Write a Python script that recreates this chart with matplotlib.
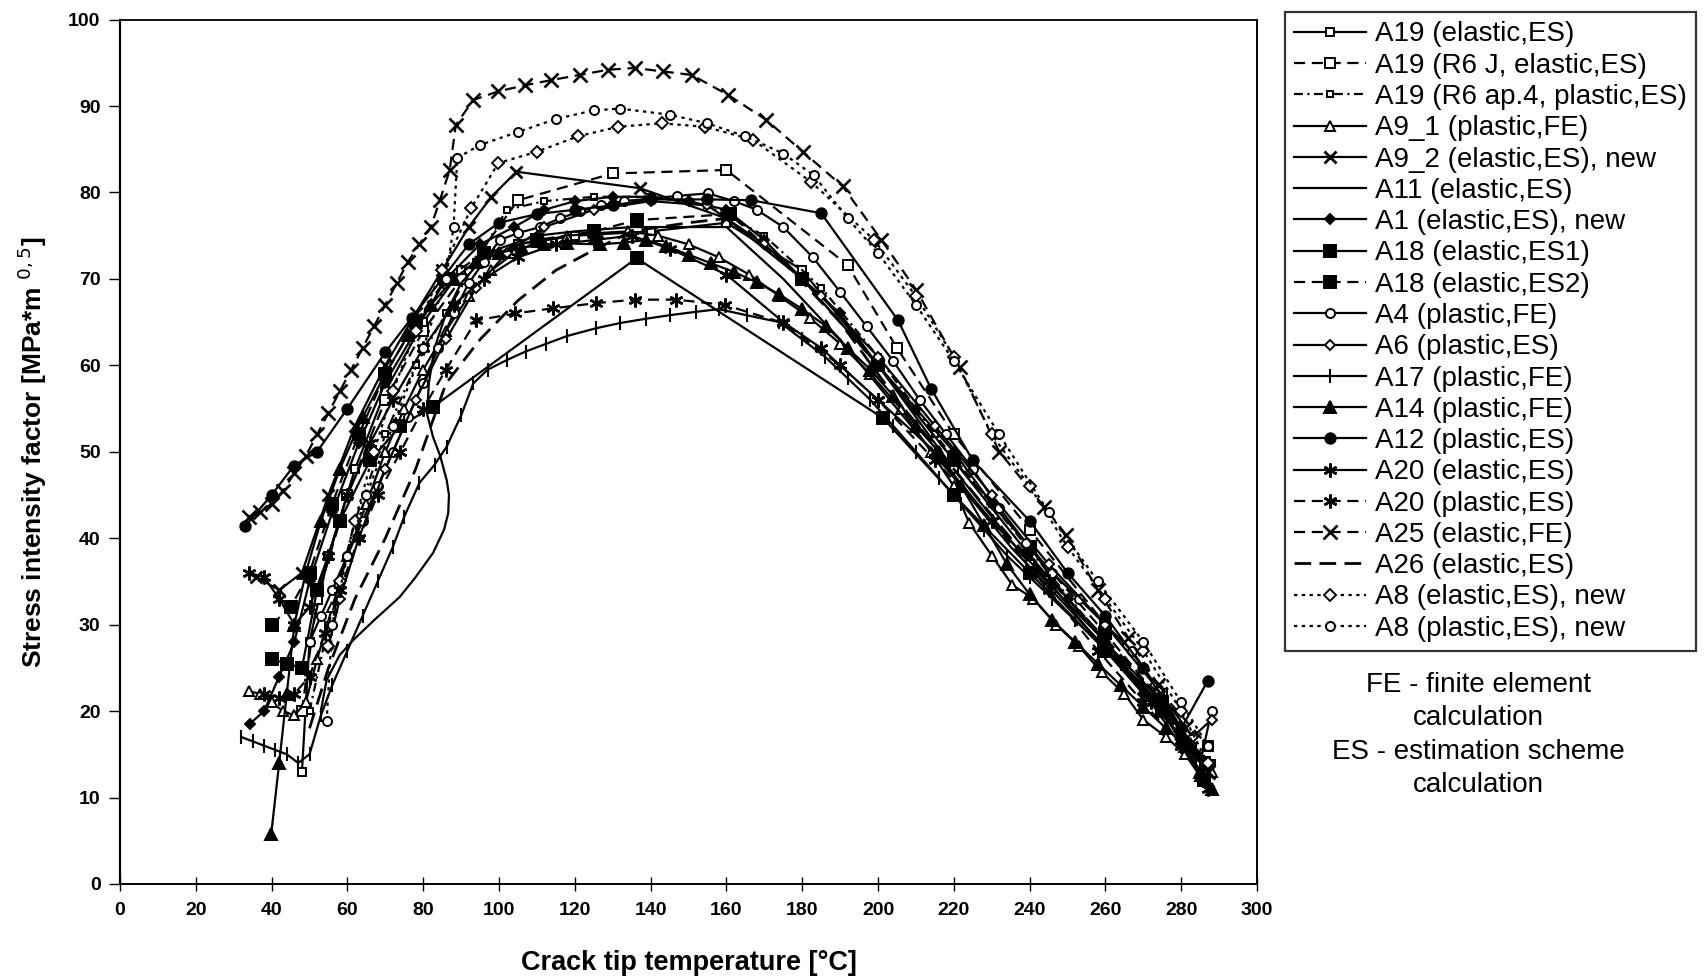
import matplotlib
matplotlib.use("Agg")
from matplotlib import pyplot as plt

plt.rcParams['font.family'] = ['Liberation Sans', 'DejaVu Sans']

# ---- data (temperature in degC, K in MPa*m^0.5) ----
t_a19_el = [48, 50, 55, 62, 70, 80, 90, 105, 120, 140, 160, 180, 200, 220, 240, 260, 275, 286]
k_a19_el = [13.0, 28, 38, 48, 57, 65, 71, 74, 75, 75.5, 76.5, 71, 60, 48, 37, 28, 20, 13]

t_a19_j = [48, 52, 60, 70, 80, 90, 105, 130, 160, 192, 205, 220, 240, 260, 275, 287]
k_a19_j = [20, 33, 45, 56, 64, 70, 79.1, 82.2, 82.6, 71.6, 62, 52, 41, 30, 22, 16]

t_a19_ap4 = [50, 55, 62, 70, 78, 86, 94, 102, 112, 125, 140, 155, 170, 185, 200, 215, 230, 245, 260, 273, 283, 288]
k_a19_ap4 = [20, 30, 42, 52, 60, 66, 72, 78, 79, 79.5, 79.5, 78.5, 75, 69, 61, 52, 44, 36, 28, 21, 16, 14]

t_a9_1 = [34, 37, 40, 43, 46, 49, 52, 56, 60, 65, 70, 75, 80, 86, 92, 98, 104, 110, 118, 126, 134, 142,
          150, 158, 166, 174, 182, 190, 198, 206, 214, 220, 224, 230, 235.4, 241, 247, 253, 259, 265,
          270, 276, 281, 285, 288]
k_a9_1 = [22.3, 22, 21, 20, 19.5, 21, 26, 32, 38, 44, 50, 55, 59.5, 64, 68, 71, 73, 74.3, 75, 75.3, 75.5, 75,
          74, 72.5, 70.5, 68, 65.5, 62.5, 59, 55, 50, 46, 41.8, 38, 34.6, 33, 30, 27.5, 24.5, 22,
          19, 17, 15, 12.5, 13]

t_a9_2 = [36, 42, 48, 55, 62, 70, 78, 85, 92, 98, 104.6, 137.1, 160, 180, 200, 220, 240, 260, 275, 287]
k_a9_2 = [35.5, 34, 36, 45, 53, 60, 66, 71, 76, 79.5, 82.4, 80.5, 77, 70, 60, 49, 38, 28, 21, 13]

t_a11 = [53, 54.5, 58, 61.5, 67, 73.8, 78, 82.6, 85.5, 86.6, 86.8, 86.2, 84.5, 82.6, 81, 81.5, 83, 86, 90,
         95, 100, 110, 120, 135, 150, 160, 175, 190, 205, 220, 235, 250, 265, 278, 286]
k_a11 = [20, 23.6, 26.5, 28.2, 30.5, 33.2, 35.5, 38.3, 41, 42.9, 45, 46.7, 49.5, 51.7, 54.4, 58, 62, 66, 69.5,
         72, 73.5, 75, 75.5, 76, 76, 76, 70, 63, 55, 47, 39, 32, 25, 19, 13]

t_a1 = [34.2, 38, 42, 46, 50, 56, 63, 70, 78, 86, 95, 104, 112, 120, 130, 140, 150, 160, 170, 180, 190,
        200, 210, 220, 230, 240, 250, 260, 270, 280, 287]
k_a1 = [18.5, 20, 24, 28, 35, 43, 51, 58, 64, 70, 74, 76, 78, 79, 79.5, 79.5, 79, 78, 74.5, 70, 66,
        60, 55, 50, 44, 39, 33, 28, 22, 17, 14]

t_a18_1 = [40, 44, 48, 52, 58, 66, 74, 82.6, 136.3, 201.3, 220, 240, 260, 275, 286]
k_a18_1 = [26, 25.5, 25, 34, 42, 49, 53, 55.2, 72.4, 53.9, 45, 36, 27, 20, 12]

t_a18_2 = [40, 45, 50, 56, 63, 70, 78, 86, 96, 110, 125, 136.3, 160.9, 180, 200, 220, 240, 260, 275, 286]
k_a18_2 = [30, 32, 36, 44, 52, 59, 65, 70, 73, 74.5, 75.5, 76.8, 77.5, 70, 60, 49, 39, 29, 21, 14]

t_a4 = [50, 53, 56, 60, 64, 68, 72, 76, 80, 84, 88, 92, 96, 100.2, 105, 110.8, 116, 121.3, 127, 133, 140,
        147, 155.1, 162, 168, 175, 182.8, 190, 197, 204, 211, 218, 225, 232, 239, 246, 253, 260, 267,
        274, 280, 285, 288]
k_a4 = [28, 31, 34, 38, 42, 46, 50, 54, 58, 62, 66, 69.5, 72, 74.5, 75.3, 76, 77, 77.8, 78.5, 79, 79.3,
        79.6, 79.9, 79, 78, 76, 72.5, 68.5, 64.5, 60.5, 56, 52, 48, 43.5, 39.5, 36, 33, 30, 27,
        22.5, 18, 14, 20]

t_a6 = [54.9, 58, 63, 70, 78, 86, 94, 102, 112, 125, 140, 155, 170, 185, 200, 215, 230, 245, 260, 273, 283, 288]
k_a6 = [27.3, 33, 40, 48, 56, 63, 69, 73, 76, 78, 79, 78.5, 74, 68, 61, 53, 45, 37, 30, 23, 17, 19]

t_a17 = [32, 35, 38, 41, 44, 47, 50, 53, 56, 60, 64, 68, 72, 75, 79, 83, 86.2, 90.1, 93.2, 97, 102, 107,
         112.5, 118, 125.7, 132, 138.9, 145, 152.1, 158, 165.3, 174, 180, 186, 192, 198, 204, 210, 216,
         222, 228, 234, 240, 246, 252, 258, 264, 270, 276, 281, 285, 287]
k_a17 = [17, 16.5, 16, 15.5, 15, 14, 15, 19.5, 23, 27, 31, 35, 39, 42.5, 46.4, 48.5, 50.6, 54.3, 57.9, 59.5,
         60.6, 61.6, 62.5, 63.4, 64.3, 64.9, 65.4, 65.8, 66.2, 66.5, 65.8, 65, 63, 61, 58.5, 56, 53, 50,
         47, 44, 41, 38, 35.5, 33, 30.5, 28, 25.5, 23, 20, 17, 14, 12]

t_a14 = [39.9, 42, 44, 46, 49, 53, 58, 64, 70, 76, 82, 88, 94, 100, 106, 112, 118, 126.7, 133, 138.9, 144,
         150, 156, 162, 168, 174, 180, 186.4, 192, 198, 204, 210, 216, 222, 228, 234, 240, 246, 252, 258,
         264, 270, 276, 281, 285, 288]
k_a14 = [5.8, 14, 22, 30, 36, 42, 48, 54, 59, 63.5, 67, 70, 72, 73, 73.6, 74, 74.1, 74, 74.2, 74.5, 73.8,
         72.8, 71.8, 70.8, 69.6, 68.2, 66.5, 64.5, 62, 59.5, 56.5, 53, 50, 46, 41.5, 37, 33.5, 30.5, 28, 25.5,
         23, 20.5, 18, 16, 13, 11]

t_a12 = [33, 40, 45.9, 52, 60, 70, 77, 85, 92, 100, 110, 120, 130, 140, 155, 166.6, 185, 205.3, 214, 225,
         240, 250, 260, 270, 280, 287]
k_a12 = [41.4, 45, 48.4, 50, 55, 61.5, 65.5, 70, 74, 76.5, 77.5, 78, 78.5, 79.2, 79.2, 79.1, 77.6, 65.2, 57.3,
         49, 42, 36, 31, 25, 18, 23.5]

t_a20_el = [34, 38, 42, 46, 50, 55, 60, 66, 72, 80, 88, 96, 105, 115, 125, 135, 145, 160, 175, 185, 200,
            215, 230, 245, 260, 272, 280, 287]
k_a20_el = [36, 35.5, 33, 30, 32, 38, 45, 51, 56, 62, 67, 70, 72.5, 74, 74.5, 75, 73.5, 70.5, 65, 62, 56,
            50, 42, 35, 27, 21, 16, 11]

t_a20_pl = [38, 42, 46, 50, 54, 58, 63, 68, 74, 80, 86, 94, 104.2, 114.3, 125.7, 135.8, 146.8, 159.5, 175,
            190, 200, 215, 230, 245, 258, 270, 280, 286]
k_a20_pl = [22, 21.5, 22, 24, 29, 34, 40, 45, 50, 55, 59.5, 65.2, 66, 66.6, 67.2, 67.6, 67.6, 67, 64.9,
            60, 56, 49, 42, 34, 27, 21, 16, 12]

t_a25 = [34, 37, 40, 43, 46, 49, 52, 55, 58, 61, 64, 67, 70, 73, 76, 79, 82, 84.4, 87, 88.6, 93.2, 99.8,
         106.8, 113.8, 121.3, 128.8, 135.8, 143.3, 150.8, 160.4, 170.5, 180.2, 190.7, 200.9, 210.1, 221.5,
         232, 243.9, 249.6, 258, 266, 274, 281, 287]
k_a25 = [42.5, 43, 44, 45.5, 47.5, 49.5, 52, 54.5, 57, 59.5, 62, 64.5, 67, 69.5, 72, 74, 76, 79.1, 82.6,
         87.8, 90.7, 91.7, 92.4, 93.0, 93.6, 94.2, 94.4, 94.0, 93.6, 91.3, 88.4, 84.7, 80.7, 74.5, 68.7,
         59.8, 50, 43.6, 40.4, 34, 28.5, 23, 18, 13]

t_a26 = [50, 55, 62, 70, 78, 86, 95, 105, 115, 124.8, 135, 150, 160, 175, 190, 205, 220, 235, 250, 265, 278, 287]
k_a26 = [18, 25, 33, 40, 48, 57.9, 63, 67.5, 71, 73.3, 75.5, 76.5, 77, 72, 65, 56, 48, 40, 33, 26, 19, 14]

t_a8_el = [55, 58, 62, 67, 72, 78, 85, 92.7, 99.8, 109.9, 120.9, 131.4, 142.9, 154.3, 167, 182.4, 199,
           210, 220, 230, 240, 250, 260, 270, 280, 287]
k_a8_el = [27.5, 35, 42, 50, 57, 64, 71, 78.2, 83.4, 84.7, 86.5, 87.6, 88.0, 87.6, 86.1, 81.2, 74.5,
           68, 61, 52, 46, 39, 33, 27, 20, 14]

t_a8_pl = [54.5, 56, 60, 65, 72, 80, 86, 88, 89, 95, 105, 115, 125, 132, 145, 155, 165, 175, 183, 192,
           200, 210, 220, 232, 245, 258, 270, 280, 287]
k_a8_pl = [18.8, 30, 38, 45, 53, 62, 70, 76, 84, 85.5, 87, 88.5, 89.5, 89.7, 89, 88, 86.5, 84.5, 82, 77,
           73, 67, 60.5, 52, 43, 35, 28, 21, 16]

labels = ["A19 (elastic,ES)", "A19 (R6 J, elastic,ES)", "A19 (R6 ap.4, plastic,ES)",
          "A9_1 (plastic,FE)", "A9_2 (elastic,ES), new", "A11 (elastic,ES)",
          "A1 (elastic,ES), new", "A18 (elastic,ES1)", "A18 (elastic,ES2)",
          "A4 (plastic,FE)", "A6 (plastic,ES)", "A17 (plastic,FE)", "A14 (plastic,FE)",
          "A12 (plastic,ES)", "A20 (elastic,ES)", "A20 (plastic,ES)", "A25 (elastic,FE)",
          "A26 (elastic,ES)", "A8 (elastic,ES), new", "A8 (plastic,ES), new"]

x_ticks = list(range(0, 301, 20))
y_ticks = list(range(0, 101, 10))

# line styles for each series
asterisk = (6, 2, 0)
dash = (0, (5, 3))
series = [
    (t_a19_el, k_a19_el, dict(ls='-', marker='s', ms=5.5, mfc='white')),
    (t_a19_j, k_a19_j, dict(ls=dash, marker='s', ms=7.5, mfc='white')),
    (t_a19_ap4, k_a19_ap4, dict(ls=(0, (4, 2, 1, 2)), marker='s', ms=4.5, mfc='white')),
    (t_a9_1, k_a9_1, dict(ls='-', marker='^', ms=7.5, mfc='white')),
    (t_a9_2, k_a9_2, dict(ls='-', marker='x', ms=9, mew=2)),
    (t_a11, k_a11, dict(ls='-', marker=None)),
    (t_a1, k_a1, dict(ls='-', marker='D', ms=5.5)),
    (t_a18_1, k_a18_1, dict(ls='-', marker='s', ms=8)),
    (t_a18_2, k_a18_2, dict(ls=dash, marker='s', ms=8)),
    (t_a4, k_a4, dict(ls='-', marker='o', ms=6.5, mfc='white')),
    (t_a6, k_a6, dict(ls='-', marker='D', ms=5, mfc='white')),
    (t_a17, k_a17, dict(ls='-', marker='|', ms=10, mew=1.5)),
    (t_a14, k_a14, dict(ls='-', marker='^', ms=8.5)),
    (t_a12, k_a12, dict(ls='-', marker='o', ms=7.5)),
    (t_a20_el, k_a20_el, dict(ls='-', marker=asterisk, ms=10, mew=1.8)),
    (t_a20_pl, k_a20_pl, dict(ls=dash, marker=asterisk, ms=10, mew=1.8)),
    (t_a25, k_a25, dict(ls=dash, marker='x', ms=10, mew=1.9)),
    (t_a26, k_a26, dict(ls=(0, (6, 3)), marker=None, lw=2.0)),
    (t_a8_el, k_a8_el, dict(ls=(0, (1.5, 2)), marker='D', ms=6.5, mfc='white')),
    (t_a8_pl, k_a8_pl, dict(ls=(0, (1.5, 2)), marker='o', ms=6.5, mfc='white')),
]

fig = plt.figure(figsize=(17.07, 9.8), dpi=100)
ax = fig.add_axes([0.0703, 0.098, 0.6661, 0.882])

handles = []
for (t, k, st), lab in zip(series, labels):
    st = dict(st)
    lw = st.pop('lw', 1.6)
    h, = ax.plot(t, k, color='black', lw=lw, mec='black', mew=st.pop('mew', 1.4),
                 label=lab, **st)
    handles.append(h)

ax.set_xlim(0, 300)
ax.set_ylim(0, 100)
ax.set_xticks(x_ticks)
ax.set_yticks(y_ticks)
ax.tick_params(axis='x', direction='inout', length=10, width=1, labelsize=14, pad=8)
ax.tick_params(axis='y', direction='out', length=8, width=1, labelsize=14, pad=6)
for lab in ax.get_xticklabels() + ax.get_yticklabels():
    lab.set_fontweight('bold')
ax.spines['left'].set_linewidth(1.6)
ax.spines['top'].set_linewidth(1.3)
ax.spines['bottom'].set_linestyle((0, (1, 1)))
ax.spines['bottom'].set_linewidth(1.4)
ax.spines['right'].set_linestyle((0, (2, 1)))
ax.spines['right'].set_linewidth(1.4)

ax.set_xlabel("Crack tip temperature [°C]", fontsize=19.5, fontweight='bold', labelpad=22)
ax.set_ylabel("Stress intensity factor [MPa*m $^{0,5}$]", fontsize=19, fontweight='bold', labelpad=14)

leg = fig.legend(handles=handles, loc='upper left', bbox_to_anchor=(0.7525, 0.988),
                 fontsize=20, frameon=True, fancybox=False, edgecolor='black',
                 labelspacing=0.19, handlelength=2.6, handletextpad=0.3, borderpad=0.35,
                 borderaxespad=0)
leg.get_frame().set_linewidth(1.6)

fig.text(0.866, 0.314, "FE - finite element\ncalculation\nES - estimation scheme\ncalculation",
         ha='center', va='top', fontsize=20, linespacing=1.36)

fig.savefig("out.png", dpi=100)
